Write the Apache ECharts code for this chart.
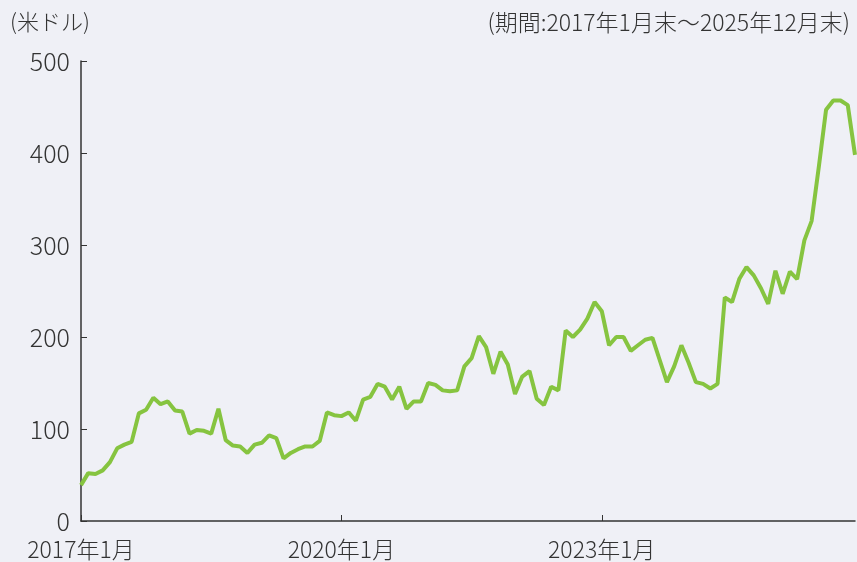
<!DOCTYPE html>
<html>
<head>
<meta charset="utf-8">
<script src="https://cdn.jsdelivr.net/npm/echarts@6/dist/echarts.min.js"></script>
<style>
html, body { margin: 0; padding: 0; background: #eff0f6; }
#chart { width: 857px; height: 562px; }
</style>
</head>
<body>
<div id="chart"></div>
<script>
// 月末値 2017年1月〜2025年12月
var startYear = 2017;
var monthCount = 108;
var values = [
	39, 52, 51, 55, 64, 79, 83, 86, 117, 121, 134, 127,
	130, 120, 119, 95, 99, 98, 95, 122, 88, 82, 81, 74,
	83, 85, 93, 90, 68, 74, 78, 81, 81, 87, 118, 115,
	114, 118, 109, 132, 135, 149, 146, 132, 146, 122, 130, 130,
	150, 148, 142, 141, 142, 168, 177, 201, 189, 160, 184, 170,
	138, 157, 163, 133, 126, 146, 142, 207, 200, 208, 220, 238,
	228, 191, 200, 200, 185, 191, 197, 199, 175, 151, 168, 191,
	172, 151, 149, 144, 149, 243, 238, 263, 276, 267, 253, 236,
	272, 247, 271, 263, 305, 326, 385, 447, 457, 457, 452, 398
];
var unitLabel = '(米ドル)';
var periodLabel = '(期間:2017年1月末～2025年12月末)';

var months = [];
for (var i = 0; i < monthCount; i++) {
	months.push((startYear + Math.floor(i / 12)) + '年' + (i % 12 + 1) + '月');
}

function drawChart(ele) {
	var myChart = echarts.init(ele);
	var font = '"Noto Sans CJK JP", "Noto Sans", sans-serif';
	var option = {
		backgroundColor: '#eff0f6',
		textStyle: { fontFamily: font },
		title: [
			{
				text: unitLabel,
				left: 5,
				top: 6,
				textStyle: { fontSize: 22, fontWeight: 300, color: '#333', fontFamily: font }
			},
			{
				text: periodLabel,
				right: 2,
				top: 6,
				textStyle: { fontSize: 23, fontWeight: 300, color: '#333', fontFamily: font }
			}
		],
		grid: { left: 81, right: 2, top: 61, bottom: 41 },
		xAxis: {
			type: 'category',
			data: months,
			boundaryGap: false,
			axisLine: { lineStyle: { color: '#333', width: 1.5 } },
			axisTick: { inside: true, length: 6, interval: 35, lineStyle: { color: '#333' } },
			axisLabel: { interval: 35, fontSize: 23, fontWeight: 300, color: '#333', margin: 17, fontFamily: font }
		},
		yAxis: {
			type: 'value',
			min: 0,
			max: 500,
			interval: 100,
			splitLine: { show: false },
			axisLine: { show: true, lineStyle: { color: '#333', width: 1.5 } },
			axisTick: { show: true, inside: true, length: 6, lineStyle: { color: '#333' } },
			axisLabel: { fontSize: 25, fontWeight: 300, color: '#333', margin: 11, fontFamily: font }
		},
		series: [
			{
				type: 'line',
				data: values,
				symbol: 'none',
				lineStyle: { color: '#86c440', width: 4 },
				animation: false
			}
		]
	};
	myChart.setOption(option);
}

drawChart(document.getElementById('chart'));
</script>
</body>
</html>
